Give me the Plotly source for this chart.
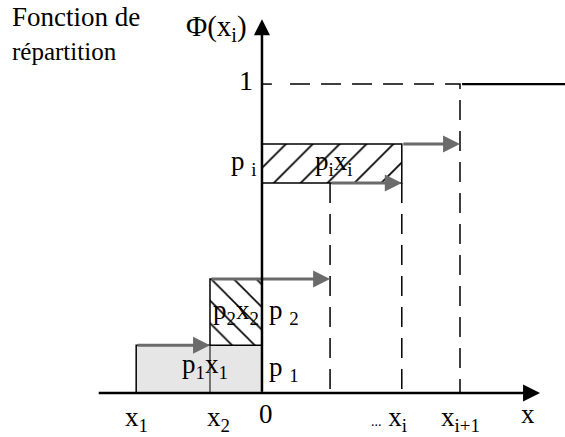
import plotly.graph_objects as go

# Abscissae of the support points (x1, x2, x_{i-1}, x_i, x_{i+1}) and the
# cumulative distribution function reached at each of them.
x_points = [-2.42, -1.0, 1.31, 2.69, 3.81]
cdf_values = [0.155, 0.369, 0.68, 0.806, 1.0]
x_tick_text = ["x<sub>1</sub>", "x<sub>2</sub>", "", "<span style='font-size:14px'>...</span> x<sub>i</sub>", "x<sub>i+1</sub>"]

# Probability labels on the vertical axis and area labels inside the rectangles
p_labels = ["p <sub>1</sub>", "p <sub>2</sub>", "p <sub>i</sub>"]
area_labels = ["p<sub>1</sub>x<sub>1</sub>", "p<sub>2</sub>x<sub>2</sub>", "p<sub>i</sub>x<sub>i</sub>"]

X_RANGE = [-5.04, 5.83]
Y_RANGE = [-0.142, 1.272]
FONT = "Liberation Serif, Times New Roman, serif"
GREY = "#6b6b6b"

x1, x2, xim1, xi, xip1 = x_points
F1, F2, Fim1, Fi, F_end = cdf_values

fig = go.Figure()

# p1 x1 : light grey rectangle between x1 and 0, height p1
fig.add_trace(go.Scatter(
    x=[x1, 0, 0, x1, x1], y=[0, 0, F1, F1, 0],
    mode="lines", fill="toself", fillcolor="#e6e6e6",
    line=dict(color="black", width=1.5), hoverinfo="skip"))

# p2 x2 : back-slash hatched rectangle between x2 and 0, from F1 to F2
fig.add_trace(go.Scatter(
    x=[x2, 0, 0, x2, x2], y=[F1, F1, F2, F2, F1],
    mode="lines", fill="toself", fillcolor="white",
    fillpattern=dict(shape="\\", size=16, solidity=0.1, fgcolor="black",
                     fgopacity=1, bgcolor="white", fillmode="replace"),
    line=dict(color="black", width=1.5), hoverinfo="skip"))

# thin continuation of the x2 edge down through the grey rectangle
fig.add_trace(go.Scatter(
    x=[x2, x2], y=[0, F1], mode="lines",
    line=dict(color="black", width=1), hoverinfo="skip"))

# pi xi : slash hatched rectangle between 0 and xi, from F(x_{i-1}) to F(x_i)
fig.add_trace(go.Scatter(
    x=[0, xi, xi, 0, 0], y=[Fim1, Fim1, Fi, Fi, Fim1],
    mode="lines", fill="toself", fillcolor="white",
    fillpattern=dict(shape="/", size=19, solidity=0.09, fgcolor="black",
                     fgopacity=1, bgcolor="white", fillmode="replace"),
    line=dict(color="black", width=1.5), hoverinfo="skip"))

# dashed guides
dash = "20px,11px"
fig.add_trace(go.Scatter(
    x=[0.54, xip1, xip1], y=[F_end, F_end, 0], mode="lines",
    line=dict(color="black", width=1.5, dash=dash), hoverinfo="skip"))
fig.add_trace(go.Scatter(
    x=[xim1, xim1], y=[Fim1, 0], mode="lines",
    line=dict(color="black", width=1.5, dash=dash), hoverinfo="skip"))
fig.add_trace(go.Scatter(
    x=[xi, xi], y=[Fim1, 0], mode="lines",
    line=dict(color="black", width=1.5, dash=dash), hoverinfo="skip"))

# tick at level 1 and the final level of the distribution function
fig.add_trace(go.Scatter(
    x=[0, 0.19], y=[F_end, F_end], mode="lines",
    line=dict(color="black", width=1.5), hoverinfo="skip"))
fig.add_trace(go.Scatter(
    x=[xip1 + 0.04, X_RANGE[1]], y=[F_end, F_end], mode="lines",
    line=dict(color="black", width=2.2), hoverinfo="skip"))

annotations = []

# step arrows of the distribution function
steps = [(x1, x2, F1), (x2, xim1, F2), (xim1, xi, Fim1), (xi, xip1, Fi)]
for tail, head, level in steps:
    annotations.append(dict(
        x=head, y=level, ax=tail, ay=level, xref="x", yref="y", axref="x", ayref="y",
        text="", showarrow=True, arrowhead=2, arrowwidth=3, arrowsize=1.13,
        arrowcolor=GREY, standoff=0))

# coordinate axes
annotations.append(dict(
    x=5.35, y=0, ax=-3.17, ay=0, xref="x", yref="y", axref="x", ayref="y",
    text="", showarrow=True, arrowhead=2, arrowwidth=2.5, arrowsize=1.36,
    arrowcolor="black", standoff=0))
annotations.append(dict(
    x=0, y=1.21, ax=0, ay=0, xref="x", yref="y", axref="x", ayref="y",
    text="", showarrow=True, arrowhead=2, arrowwidth=2.5, arrowsize=1.28,
    arrowcolor="black", standoff=0))


def label(text, x, y, size=27, xanchor="center", yanchor="middle"):
    annotations.append(dict(
        x=x, y=y, xref="x", yref="y", text=text, showarrow=False,
        xanchor=xanchor, yanchor=yanchor,
        font=dict(family=FONT, size=size, color="black")))


# titles
label("Fonction de", -4.84, 1.218, size=27, xanchor="left")
label("répartition", -4.84, 1.105, size=25, xanchor="left")
label("\u03a6(x<sub>i</sub>)", -0.87, 1.18, size=29)
label("1", -0.13, 1.012, size=28, xanchor="right")

# probability labels next to the vertical axis
label(p_labels[0], 0.1, F1 / 2, xanchor="left")
label(p_labels[1], 0.1, (F1 + F2) / 2, xanchor="left")
label(p_labels[2], -0.06, (Fim1 + Fi) / 2, xanchor="right")

# area labels
label(area_labels[0], -1.1, F1 / 2 + 0.01)
label(area_labels[1], -0.5, (F1 + F2) / 2)
label(area_labels[2], xi / 2 + 0.05, (Fim1 + Fi) / 2)

# abscissa labels
label(x_tick_text[0], x1, -0.083)
label(x_tick_text[1], x2 + 0.17, -0.085)
label("0", 0.08, -0.066)
label(x_tick_text[3], xi - 0.25, -0.083)
label(x_tick_text[4], xip1, -0.083)
label("x", 5.12, -0.068)

fig.update_layout(
    width=565, height=437, autosize=False,
    margin=dict(l=0, r=0, t=0, b=0),
    paper_bgcolor="white", plot_bgcolor="white",
    showlegend=False,
    xaxis=dict(range=X_RANGE, visible=False, fixedrange=True),
    yaxis=dict(range=Y_RANGE, visible=False, fixedrange=True),
    annotations=annotations,
)

fig.write_html("out.html")
